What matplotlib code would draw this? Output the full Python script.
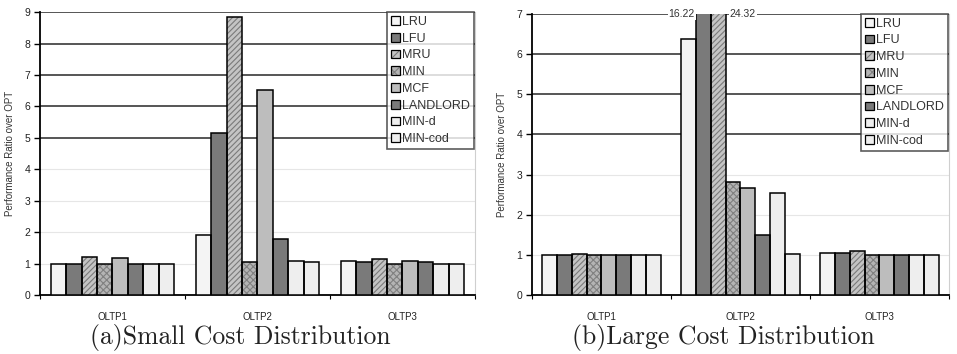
import matplotlib
matplotlib.use("Agg")
import matplotlib.pyplot as plt
import numpy as np
from matplotlib.patches import Patch
from matplotlib.legend_handler import HandlerTuple

categories = ["OLTP1", "OLTP2", "OLTP3"]
series = ["LRU", "LFU", "MRU", "MIN", "MCF", "LANDLORD", "MIN-d", "MIN-cod"]

small_cost = {
    "LRU":      [1.00, 1.90, 1.07],
    "LFU":      [1.00, 5.17, 1.05],
    "MRU":      [1.21, 8.86, 1.13],
    "MIN":      [1.00, 1.05, 1.00],
    "MCF":      [1.19, 6.52, 1.08],
    "LANDLORD": [1.00, 1.77, 1.05],
    "MIN-d":    [1.00, 1.08, 1.00],
    "MIN-cod":  [1.00, 1.04, 1.00],
}
large_cost = {
    "LRU":      [1.00, 6.38, 1.05],
    "LFU":      [1.00, 16.22, 1.05],
    "MRU":      [1.03, 24.32, 1.09],
    "MIN":      [1.00, 2.82, 1.00],
    "MCF":      [1.00, 2.67, 1.00],
    "LANDLORD": [1.00, 1.50, 1.00],
    "MIN-d":    [1.00, 2.55, 1.00],
    "MIN-cod":  [1.00, 1.01, 1.00],
}
titles = ["(a)Small Cost Distribution", "(b)Large Cost Distribution"]
ylims = [9, 7]
dark_grid_from = [5, 4]

styles = {
    "LRU":      dict(fc="#f4f4f4", hatch=None, hc=None),
    "LFU":      dict(fc="#7a7a7a", hatch=None, hc=None),
    "MRU":      dict(fc="#c4c4c4", hatch="//////", hc="#7a7a7a"),
    "MIN":      dict(fc="#b4b4b4", hatch="xxxxx", hc="#808080"),
    "MCF":      dict(fc="#bdbdbd", hatch=None, hc=None),
    "LANDLORD": dict(fc="#7a7a7a", hatch=None, hc=None),
    "MIN-d":    dict(fc="#eeeeee", hatch=None, hc=None),
    "MIN-cod":  dict(fc="#eeeeee", hatch=None, hc=None),
}

plt.rcParams["font.family"] = ["Liberation Sans", "DejaVu Sans"]
plt.rcParams["hatch.linewidth"] = 0.8

fig = plt.figure(figsize=(9.57, 3.54), dpi=100)
axes = [fig.add_axes([0.0418, 0.1667, 0.4545, 0.799]),
        fig.add_axes([0.5559, 0.1667, 0.4357, 0.794])]
title_x = [0.46, 0.46]

nser = len(series)
group_w = 0.85
bw = group_w / nser
x = np.arange(len(categories))

for k, (ax, data, title, ymax) in enumerate(zip(axes, [small_cost, large_cost], titles, ylims)):
    handles = []
    for i, s in enumerate(series):
        st = styles[s]
        pos = x - group_w / 2 + bw * (i + 0.5)
        vals = data[s]
        if st["hatch"]:
            ax.bar(pos, vals, bw, color=st["fc"], edgecolor=st["hc"], hatch=st["hatch"],
                   linewidth=0, zorder=3)
        else:
            ax.bar(pos, vals, bw, color=st["fc"], linewidth=0, zorder=3)
        ax.bar(pos, vals, bw, facecolor="none", edgecolor="black", linewidth=1.1, zorder=4)
        if st["hatch"]:
            h = (Patch(facecolor=st["fc"], edgecolor=st["hc"],
                       hatch="////" if st["hatch"].startswith("/") else "xxx", linewidth=0),
                 Patch(facecolor="none", edgecolor="black", linewidth=0.9))
        else:
            h = (Patch(facecolor=st["fc"], linewidth=0),
                 Patch(facecolor="none", edgecolor="black", linewidth=0.9))
        handles.append(h)
        for j, v in enumerate(vals):
            if v > ymax:
                if i % 2 == 1:
                    ax.text(pos[j] - bw / 2 - 0.01, ymax, f"{v:.2f}", ha="right", va="center",
                            fontsize=7.5, color="#333333", zorder=6,
                            bbox=dict(facecolor="white", edgecolor="none", pad=0.5))
                else:
                    ax.text(pos[j] + bw / 2 + 0.03, ymax, f"{v:.2f}", ha="left", va="center",
                            fontsize=7.5, color="#333333", zorder=6,
                            bbox=dict(facecolor="white", edgecolor="none", pad=0.5))

    ax.set_xlim(-0.5, len(categories) - 0.5)
    ax.set_ylim(0, ymax)
    ax.set_yticks(np.arange(0, ymax + 1))
    ax.set_xticks(x)
    ax.set_xticklabels(categories, fontsize=7, color="#222222")
    ax.tick_params(axis="x", which="major", length=0, pad=12)
    ax.set_xticks(np.arange(-0.5, len(categories), 1.0), minor=True)
    ax.tick_params(axis="x", which="minor", length=3, direction="out", width=0.8)
    ax.tick_params(axis="y", labelsize=7.5, length=4, width=1.0, pad=3, labelcolor="#222222")
    ax.set_ylabel("Performance Ratio over OPT", fontsize=7, color="#333333", labelpad=7)

    ax.yaxis.grid(True, zorder=0)
    for t, gl in zip(ax.get_yticks(), ax.get_ygridlines()):
        if t >= dark_grid_from[k]:
            gl.set_color("#555555")
            gl.set_linewidth(1.4)
        else:
            gl.set_color("#e6e6e6")
            gl.set_linewidth(0.8)
    ax.set_axisbelow(True)

    ax.spines["top"].set_visible(False)
    ax.spines["right"].set_color("#cfcfcf")
    ax.spines["right"].set_linewidth(0.8)
    ax.spines["left"].set_linewidth(1.3)
    ax.spines["bottom"].set_linewidth(1.3)

    leg = ax.legend(handles, series, handler_map={tuple: HandlerTuple(ndivide=1, pad=0)},
                    loc="upper right", bbox_to_anchor=(0.997, 1.0), fontsize=9,
                    frameon=True, fancybox=False, borderpad=0.3, labelspacing=0.38,
                    handlelength=0.7, handleheight=0.7, handletextpad=0.2,
                    borderaxespad=0)
    leg.get_frame().set_edgecolor("#333333")
    leg.get_frame().set_linewidth(1.2)
    leg.set_zorder(10)
    for txt in leg.get_texts():
        txt.set_color("#333333")

    ax.text(title_x[k], -0.103, title, transform=ax.transAxes, ha="center", va="top",
            fontsize=18.5, family="cmr10", color="#222222")

fig.savefig("out.png", dpi=100)
